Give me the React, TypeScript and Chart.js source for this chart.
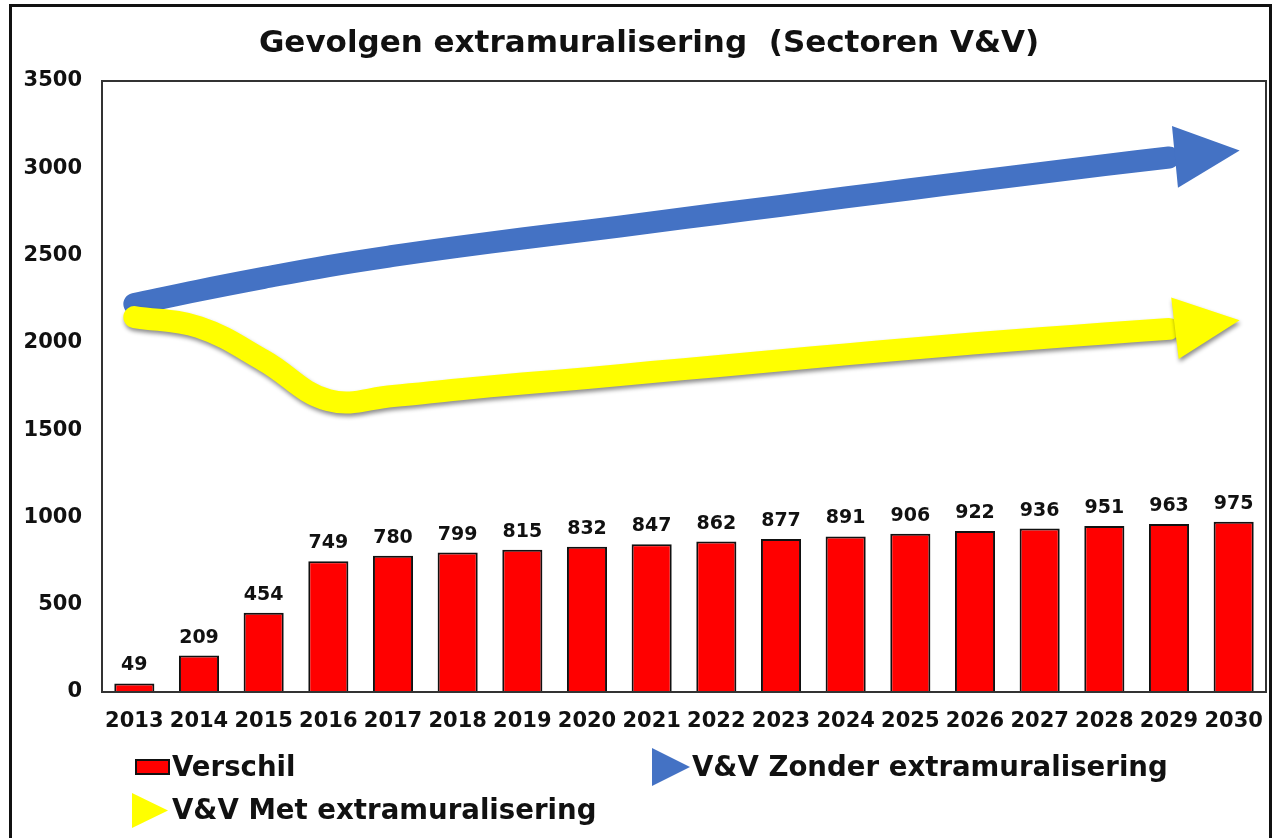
import React, { useEffect, useRef } from "react";
import { Chart, registerables } from "chart.js";

Chart.register(...registerables);

const YEARS = ["2013","2014","2015","2016","2017","2018","2019","2020","2021","2022","2023","2024","2025","2026","2027","2028","2029","2030"];
const VERSCHIL = [49,209,454,749,780,799,815,832,847,862,877,891,906,922,936,951,963,975];
const ZONDER = [2222,2300,2372,2440,2498,2550,2598,2643,2690,2738,2785,2833,2880,2926,2972,3018,3062,3098];
const MET = [2148,2090,1900,1672,1696,1733,1767,1798,1833,1866,1900,1934,1966,1998,2026,2054,2080,2125];
const Y_MIN = 0;
const Y_MAX = 3500;
const Y_STEP = 500;

const TITLE = "Gevolgen extramuralisering  (Sectoren V&V)";
const LABEL_VERSCHIL = "Verschil";
const LABEL_ZONDER = "V&V Zonder extramuralisering";
const LABEL_MET = "V&V Met extramuralisering";

const FONT = "'DejaVu Sans', Verdana, sans-serif";
const RED = "#FF0000";
const BLUE = "#4472C4";
const YELLOW = "#FFFF00";
const INK = "#111111";

// line shafts stop at the second to last year; the arrow head runs to the last value
const shaft = (values: number[]) => values.map((v, i) => (i === values.length - 1 ? null : v));
const SERIES_FOR_LABEL: Record<string, number[]> = {
  [LABEL_ZONDER]: ZONDER,
  [LABEL_MET]: MET,
};

const arrowPlugin = {
  id: "arrowsAndExtras",
  beforeDatasetDraw(chart: any, args: any) {
    const ds = chart.data.datasets[args.index];
    if (ds.label === LABEL_MET) {
      const ctx = chart.ctx;
      ctx.save();
      ctx.shadowColor = "rgba(0,0,0,0.45)";
      ctx.shadowBlur = 4;
      ctx.shadowOffsetX = 1;
      ctx.shadowOffsetY = 3;
    }
  },
  afterDatasetDraw(chart: any, args: any) {
    const ds = chart.data.datasets[args.index];
    const meta = args.meta;
    const ctx = chart.ctx;
    if (meta.type === "line") {
      const values = SERIES_FOR_LABEL[ds.label];
      const n = values.length;
      const xs = chart.scales.x;
      const ys = chart.scales.y;
      const ax = xs.getPixelForValue(n - 2);
      const ay = ys.getPixelForValue(values[n - 2]);
      const bxx = xs.getPixelForValue(n - 1);
      const byy = ys.getPixelForValue(values[n - 1]);
      const dx = bxx - ax;
      const dy = byy - ay;
      const len = Math.sqrt(dx * dx + dy * dy) || 1;
      const ux = dx / len;
      const uy = dy / len;
      const bx = ax + ux * 6;
      const by = ay + uy * 6;
      const tx = bxx + ux * 6;
      const ty = byy + uy * 6;
      const hw = 31;
      ctx.save();
      ctx.fillStyle = ds.borderColor;
      ctx.beginPath();
      ctx.moveTo(bx - uy * hw, by + ux * hw);
      ctx.lineTo(tx, ty);
      ctx.lineTo(bx + uy * hw, by - ux * hw);
      ctx.closePath();
      ctx.fill();
      ctx.restore();
    }
    if (ds.label === LABEL_MET) {
      ctx.restore();
    }
  },
  afterDatasetsDraw(chart: any) {
    const ctx = chart.ctx;
    const area = chart.chartArea;
    ctx.save();
    ctx.strokeStyle = "#333333";
    ctx.lineWidth = 2;
    ctx.strokeRect(area.left, area.top, area.right - area.left, area.bottom - area.top);
    ctx.restore();
    chart.data.datasets.forEach((ds: any, i: number) => {
      const meta = chart.getDatasetMeta(i);
      if (meta.type !== "bar") return;
      ctx.save();
      ctx.font = `bold 19px ${FONT}`;
      ctx.fillStyle = INK;
      ctx.textAlign = "center";
      ctx.textBaseline = "alphabetic";
      meta.data.forEach((el: any, j: number) => {
        ctx.fillText(String(ds.data[j]), el.x, el.y - 13);
      });
      ctx.restore();
    });
  },
  afterDraw(chart: any) {
    const ctx = chart.ctx;
    ctx.save();
    ctx.font = `bold 31px ${FONT}`;
    ctx.fillStyle = INK;
    ctx.textAlign = "center";
    ctx.textBaseline = "alphabetic";
    ctx.fillText(TITLE, 649, 52);
    ctx.restore();
  },
};

export default function App() {
  const ref = useRef<HTMLCanvasElement | null>(null);

  useEffect(() => {
    if (!ref.current) return;
    const lineCommon = {
      type: "line",
      borderWidth: 22,
      pointRadius: 0,
      pointHoverRadius: 0,
      tension: 0.4,
      borderCapStyle: "round",
      borderJoinStyle: "round",
      fill: false,
      spanGaps: false,
    };
    const chart = new Chart(ref.current, {
      type: "bar",
      data: {
        labels: YEARS,
        datasets: [
          {
            type: "bar",
            label: LABEL_VERSCHIL,
            data: VERSCHIL,
            backgroundColor: RED,
            borderColor: INK,
            borderWidth: 2,
            barPercentage: 0.62,
            categoryPercentage: 1,
            order: 3,
          } as any,
          {
            ...lineCommon,
            label: LABEL_ZONDER,
            data: shaft(ZONDER),
            borderColor: BLUE,
            order: 2,
          } as any,
          {
            ...lineCommon,
            label: LABEL_MET,
            data: shaft(MET),
            borderColor: YELLOW,
            order: 1,
          } as any,
        ],
      },
      options: {
        responsive: false,
        animation: false,
        devicePixelRatio: 1,
        layout: { padding: { left: 0, right: 12, top: 81, bottom: 0 } },
        plugins: {
          legend: { display: false },
          title: { display: false },
          tooltip: { enabled: false },
        },
        scales: {
          x: {
            type: "category",
            grid: { display: false },
            border: { display: false },
            ticks: {
              color: INK,
              font: { family: FONT, size: 21, weight: "bold" },
              padding: 9,
              maxRotation: 0,
              autoSkip: false,
            },
            afterFit: (s: any) => {
              s.height = 48;
            },
          },
          y: {
            min: Y_MIN,
            max: Y_MAX,
            grid: { display: false },
            border: { display: false },
            ticks: {
              stepSize: Y_STEP,
              color: INK,
              font: { family: FONT, size: 21, weight: "bold" },
              padding: 12,
              callback: (v: any) => String(v),
            },
            afterFit: (s: any) => {
              s.width = 102;
            },
          },
        },
      } as any,
      plugins: [arrowPlugin],
    });
    return () => chart.destroy();
  }, []);

  const legendText: React.CSSProperties = {
    position: "absolute",
    font: `bold 27.6px ${FONT}`,
    color: INK,
    lineHeight: "30px",
    whiteSpace: "pre",
  };

  return (
    <div
      style={{
        position: "absolute",
        left: 0,
        top: 0,
        width: 1278,
        height: 838,
        overflow: "hidden",
        background: "#ffffff",
      }}
    >
      <canvas ref={ref} width={1278} height={740} style={{ position: "absolute", left: 0, top: 0 }} />
      <div
        style={{
          position: "absolute",
          left: 9,
          top: 4,
          width: 1263,
          height: 900,
          border: `3px solid ${INK}`,
          boxSizing: "border-box",
          pointerEvents: "none",
        }}
      />
      <div
        style={{
          position: "absolute",
          left: 135,
          top: 759,
          width: 35,
          height: 16,
          background: RED,
          border: `2px solid ${INK}`,
          boxSizing: "border-box",
        }}
      />
      <div style={{ ...legendText, left: 172, top: 752 }}>{LABEL_VERSCHIL}</div>
      <div
        style={{
          position: "absolute",
          left: 652,
          top: 748,
          width: 38,
          height: 38,
          background: BLUE,
          clipPath: "polygon(0 0, 100% 50%, 0 100%)",
        }}
      />
      <div style={{ ...legendText, left: 692, top: 752 }}>{LABEL_ZONDER}</div>
      <div
        style={{
          position: "absolute",
          left: 132,
          top: 793,
          width: 36,
          height: 35,
          background: YELLOW,
          clipPath: "polygon(0 0, 100% 50%, 0 100%)",
        }}
      />
      <div style={{ ...legendText, left: 172, top: 795 }}>{LABEL_MET}</div>
    </div>
  );
}
